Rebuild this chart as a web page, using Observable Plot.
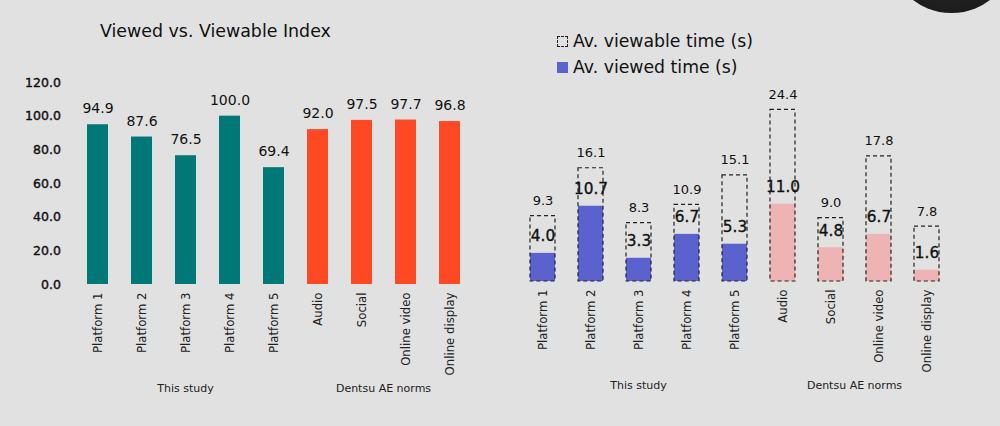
<!DOCTYPE html>
<html><head><meta charset="utf-8">
<script src="https://cdn.jsdelivr.net/npm/d3@7"></script>
<script src="https://cdn.jsdelivr.net/npm/@observablehq/plot@0.6"></script>
<style>
html,body{margin:0;padding:0;background:#e1e1e1;}
#root{position:relative;width:1000px;height:426px;overflow:hidden;font-family:"DejaVu Sans",sans-serif;color:#111;}
#root svg{position:absolute;top:0;}
#title{position:absolute;left:100px;top:20px;font-size:17.4px;line-height:22px;white-space:nowrap;}
.leg{position:absolute;left:557px;font-size:17.3px;line-height:22px;white-space:nowrap;}
.sw{display:inline-block;width:9px;height:9px;margin-right:5px;vertical-align:0px;}
#circle{position:absolute;left:888px;top:-114px;width:127px;height:127px;border-radius:50%;background:radial-gradient(circle at 50% 40%,#3a3a3a,#1e1e1e 70%,#141414);}
g[aria-label="y-axis tick label"] text{stroke:#111;stroke-width:0.4px;}
g.viewedlab text{stroke:#111;stroke-width:0.35px;}
</style></head><body><div id="root">
<div id="title">Viewed vs. Viewable Index</div>
<div class="leg" style="top:30px"><span class="sw" style="border:1px dashed #222;"></span>Av. viewable time (s)</div>
<div class="leg" style="top:56px"><span class="sw" style="background:#5a63cd;width:11px;height:11px;"></span>Av. viewed time (s)</div>
<div id="circle"></div>
</div>
<script>
const categories = ["Platform 1","Platform 2","Platform 3","Platform 4","Platform 5","Audio","Social","Online video","Online display"];
const groupOf = ["This study","This study","This study","This study","This study","Dentsu AE norms","Dentsu AE norms","Dentsu AE norms","Dentsu AE norms"];
const groupNames = ["This study","Dentsu AE norms"];
const indexValues = [94.9,87.6,76.5,100.0,69.4,92.0,97.5,97.7,96.8];
const viewableTime = [9.3,16.1,8.3,10.9,15.1,24.4,9.0,17.8,7.8];
const viewedTime = [4.0,10.7,3.3,6.7,5.3,11.0,4.8,6.7,1.6];
const yTicks = [0,20,40,60,80,100,120];

const data = categories.map((c,i)=>({category:c, group:groupOf[i], index:indexValues[i], viewable:viewableTime[i], viewed:viewedTime[i]}));
const font = '"DejaVu Sans",sans-serif';
const root = document.getElementById("root");

function addGroupLabels(chart, yPos){
  const sx = chart.scale("x");
  const svg = d3.select(chart);
  groupNames.forEach(g=>{
    const members = data.filter(d=>d.group===g).map(d=>d.category);
    const cx = d3.mean(members, m=>sx.apply(m)+sx.bandwidth/2);
    svg.append("text").attr("x",cx).attr("y",yPos).attr("text-anchor","middle")
      .attr("dominant-baseline","middle").attr("font-size",11).attr("fill","#222").text(g);
  });
}

const left = Plot.plot({
  width: 490, height: 426,
  marginLeft: 74.4, marginRight: 17.4, marginTop: 82, marginBottom: 142,
  style: {background:"transparent", fontFamily:font, color:"#111", overflow:"visible"},
  x: {domain: categories, paddingInner: 0.525, paddingOuter: 0.2625, label: null},
  y: {domain: [0,120], label: null},
  color: {domain: groupNames, range: ["#007877","#ff4824"]},
  marks: [
    Plot.axisY({ticks: yTicks, tickFormat: d3.format(".1f"), tickSize: 0, tickPadding: 14, fontSize: 12.5, fill:"#111", label: null}),
    Plot.axisX({tickSize: 0, tickPadding: 8, tickRotate: -90, fontSize: 11.7, fill: "#222", label: null}),
    Plot.barY(data, {x:"category", y:"index", fill:"group"}),
    Plot.text(data, {x:"category", y:"index", text: d=>d.index.toFixed(1), dy:-16, fontSize:14, fill:"#111"})
  ]
});
left.style.left = "0px";
root.appendChild(left);
addGroupLabels(left, 389);

const right = Plot.plot({
  width: 510, height: 426,
  marginLeft: 27.45, marginRight: 49.45, marginTop: 70, marginBottom: 145,
  style: {background:"transparent", fontFamily:font, color:"#111", overflow:"visible"},
  x: {domain: categories, paddingInner: 0.48, paddingOuter: 0.24, label: null},
  y: {domain: [0,30], axis: null},
  color: {domain: groupNames, range: ["#5a63cd","#eeb4b4"]},
  marks: [
    Plot.axisX({tickSize: 0, tickPadding: 8, tickRotate: -90, fontSize: 11.7, fill: "#222", label: null}),
    Plot.barY(data, {x:"category", y:"viewed", fill:"group"}),
    Plot.barY(data, {x:"category", y:"viewable", fill:"none", stroke:"#222", strokeWidth:1.2, strokeDasharray:"4,3"}),
    Plot.text(data, {x:"category", y:"viewable", text: d=>d.viewable.toFixed(1), dy:-15, fontSize:13, fill:"#111"}),
    Plot.text(data, {x:"category", y:"viewed", text: d=>d.viewed.toFixed(1), dy:-17, fontSize:15.3, fill:"#111", className:"viewedlab"})
  ]
});
right.style.left = "490px";
root.appendChild(right);
addGroupLabels(right, 386);
</script>
</body></html>
